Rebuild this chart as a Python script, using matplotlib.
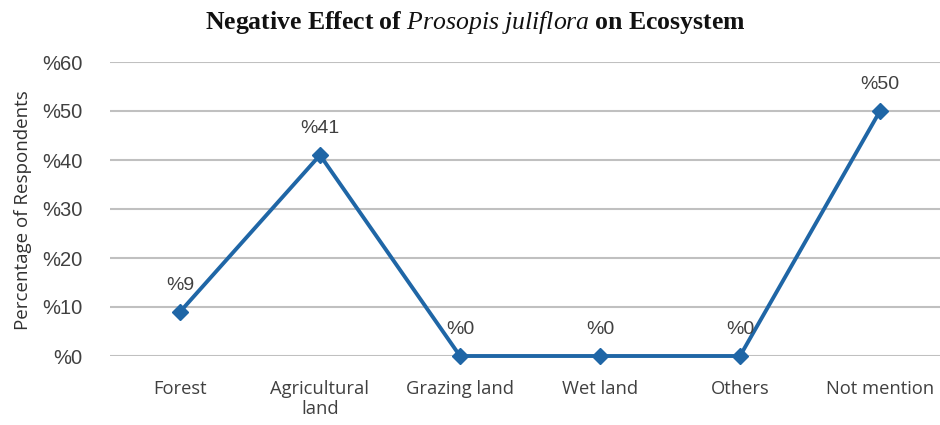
import matplotlib
matplotlib.use("Agg")
import matplotlib.pyplot as plt

categories = ["Forest", "Agricultural\nland", "Grazing land", "Wet land", "Others", "Not mention"]
values = [9, 41, 0, 0, 0, 50]
yticks = [0, 10, 20, 30, 40, 50, 60]
ytick_labels = ["%0", "%10", "%20", "%30", "%40", "%50", "%60"]
data_labels = ["%9", "%41", "%0", "%0", "%0", "%50"]

plt.rcParams['mathtext.fontset'] = 'custom'
plt.rcParams['mathtext.rm'] = 'Liberation Serif'
plt.rcParams['mathtext.it'] = 'Liberation Serif:italic'
plt.rcParams['mathtext.bf'] = 'Liberation Serif:bold'

fig = plt.figure(figsize=(9.4, 4.25), dpi=100)
ax = fig.add_axes([110/940, (425-356)/425, 840/940, (356-62)/425])
x = list(range(len(categories)))
color = "#1f66a6"
ax.plot(x, values, color=color, lw=2.8, marker="D", ms=8, mfc=color, mec=color, zorder=3, clip_on=False)
for xi, v, lab in zip(x, values, data_labels):
    ax.annotate(lab, (xi, v), xytext=(0, 13), textcoords="offset points", ha="center", va="bottom",
                fontsize=14, color="#404040", family="Liberation Sans")

ax.set_xlim(-0.5, 5.5)
ax.set_ylim(0, 60)
ax.set_yticks(yticks)
ax.set_yticklabels(ytick_labels, fontsize=14.5, color="#404040", family="Liberation Sans")
ax.set_xticks(x)
ax.set_xticklabels(categories, fontsize=13.2, color="#404040", family="Open Sans", linespacing=1.15, va="top")
ax.tick_params(axis="y", length=0, pad=20)
ax.tick_params(axis="x", length=0, pad=17)
ax.grid(axis="y", color="#c0c0c0", lw=1.5)
ax.set_axisbelow(True)
for s in ax.spines.values():
    s.set_visible(False)

fig.text(23/940, 1 - 210/425, "Percentage of Respondents", rotation=90, ha="center", va="center",
         fontsize=13.5, color="#303030", family="Open Sans")
fig.text(475/940, 1 - 22/425,
         r"$\mathbf{Negative\ Effect\ of}\ \mathit{Prosopis\ juliflora}\ \mathbf{on\ Ecosystem}$",
         ha="center", va="center", fontsize=18.5, color="#111111")

fig.savefig("out.png", dpi=100, facecolor="white")
